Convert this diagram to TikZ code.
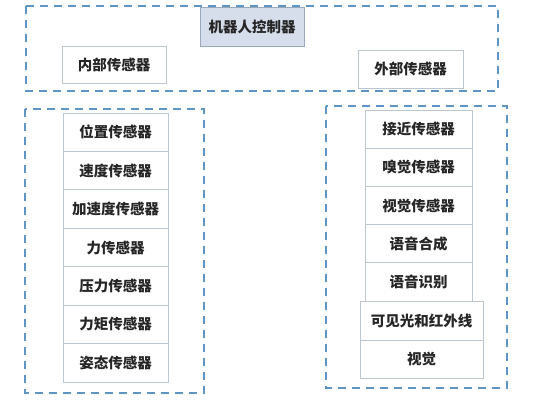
\documentclass[tikz,border=0pt]{standalone}
\usepackage{fontspec}
\newfontfamily\cjk{Noto Sans CJK SC}
\begin{document}
\begin{tikzpicture}[x=1pt,y=-1pt,
  group/.style={draw=dashblue,line width=1.8pt,dash pattern=on 8pt off 6pt},
  cell/.style={draw=cellgray,line width=0.8pt,fill=white},
  ctrl/.style={draw=ctrlgray,line width=0.8pt,fill=ctrlfill},
  lbl/.style={font=\cjk\bfseries\fontsize{14.5}{16}\selectfont,text=black!85}]
\definecolor{dashblue}{HTML}{5F94C6}
\definecolor{cellgray}{HTML}{BCC6D3}
\definecolor{ctrlgray}{HTML}{9AA8BC}
\definecolor{ctrlfill}{HTML}{D6DEEC}
\useasboundingbox (0,0) rectangle (533,400);
\fill[white] (0,0) rectangle (533,400);
% groups
\draw[group] (26,6) rectangle (498,91);
\draw[group] (25,109) rectangle (204,393);
\draw[group] (326,106) rectangle (507,388);
% top
\draw[ctrl] (200,7) rectangle (304,46);
\node[lbl] (ctrl) at (252,26.5) {机器人控制器};
\draw[cell] (62,46) rectangle (166,83);
\node[lbl] (in) at (114,64.5) {内部传感器};
\draw[cell] (358,50) rectangle (463,88);
\node[lbl] (out) at (410.5,69) {外部传感器};
% left stack
\foreach \t [count=\i from 0] in {位置传感器,速度传感器,加速度传感器,力传感器,压力传感器,力矩传感器,姿态传感器}{
  \pgfmathsetmacro{\ya}{113+38.43*\i}
  \pgfmathsetmacro{\yb}{113+38.43*(\i+1)}
  \draw[cell] (63,\ya) rectangle (168,\yb);
  \node[lbl] (L\i) at (115.5,{(\ya+\yb)/2}) {\t};
}
% right stack
\foreach \t [count=\i from 0] in {接近传感器,嗅觉传感器,视觉传感器,语音合成,语音识别}{
  \pgfmathsetmacro{\ya}{110+38.2*\i}
  \pgfmathsetmacro{\yb}{110+38.2*(\i+1)}
  \draw[cell] (365,\ya) rectangle (472,\yb);
  \node[lbl] (R\i) at (418.5,{(\ya+\yb)/2}) {\t};
}
\draw[cell] (360,301) rectangle (483,340);
\node[lbl] (R5) at (421.5,320.5) {可见光和红外线};
\draw[cell] (360,340) rectangle (483,378);
\node[lbl] (R6) at (421.5,359) {视觉};
\end{tikzpicture}
\end{document}
